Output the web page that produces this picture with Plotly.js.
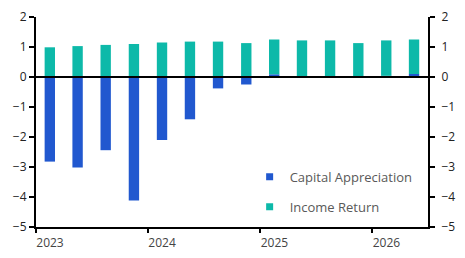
<!DOCTYPE html>
<html>
<head>
<meta charset="utf-8">
<script src="https://cdn.plot.ly/plotly-3.0.1.min.js"></script>
<style>
  html, body { margin: 0; padding: 0; background: #fff; }
  #chart { width: 465px; height: 258px; }
</style>
</head>
<body>
<div id="chart"></div>
<script>
// Quarter start dates (bars are centred within each quarter)
const quarters = [
  '2023-01-01', '2023-04-01', '2023-07-01', '2023-10-01',
  '2024-01-01', '2024-04-01', '2024-07-01', '2024-10-01',
  '2025-01-01', '2025-04-01', '2025-07-01', '2025-10-01',
  '2026-01-01', '2026-04-01'
];
// Quarterly total return components (%)
const capitalAppreciation = [-2.82, -3.02, -2.44, -4.12, -2.10, -1.41, -0.38, -0.25, 0.09, 0.00, 0.00, 0.00, 0.04, 0.10];
const incomeReturn        = [ 0.99,  1.03,  1.07,  1.10,  1.15,  1.18,  1.18,  1.13, 1.16, 1.22, 1.22, 1.13, 1.18, 1.15];

const yearTicks = ['2023-01-01', '2024-01-01', '2025-01-01', '2026-01-01'];
const yearLabels = ['2023', '2024', '2025', '2026'];
const yTicks = [2, 1, 0, -1, -2, -3, -4, -5];

const BLUE = '#2158cf';
const TEAL = '#0db9a9';
const FONT = '"Open Sans", "Noto Sans", sans-serif';
const BAR_W = 0.37 * 91.3 * 86400000;

const barCommon = {
  type: 'bar',
  x: quarters,
  xperiod: 'M3',
  xperiodalignment: 'middle',
  width: BAR_W,
  showlegend: false,
  hoverinfo: 'skip'
};

const traces = [
  Object.assign({}, barCommon, { name: 'Capital Appreciation', y: capitalAppreciation, marker: { color: BLUE } }),
  Object.assign({}, barCommon, { name: 'Income Return', y: incomeReturn, marker: { color: TEAL } }),
  // Legend keys with small square swatches
  { type: 'scatter', mode: 'markers', x: [null], y: [null], yaxis: 'y2', name: 'Capital Appreciation',
    legendgroup: 'a', marker: { symbol: 'square', size: 7, color: BLUE }, showlegend: true },
  { type: 'scatter', mode: 'markers', x: [null], y: [null], yaxis: 'y2', name: 'Income Return',
    legendgroup: 'b', marker: { symbol: 'square', size: 7, color: TEAL }, showlegend: true }
];

const yCommon = {
  range: [-5, 2],
  tickvals: yTicks,
  ticks: 'outside',
  ticklen: 5,
  tickwidth: 2,
  tickcolor: '#000',
  showline: true,
  linecolor: '#000',
  linewidth: 2,
  showgrid: false,
  zeroline: false,
  tickfont: { family: FONT, size: 12, color: '#222' },
  fixedrange: true
};

const layout = {
  width: 465,
  height: 258,
  margin: { l: 36, r: 37, t: 17, b: 31 },
  paper_bgcolor: '#fff',
  plot_bgcolor: '#fff',
  barmode: 'relative',
  font: { family: FONT, size: 12, color: '#595959' },
  xaxis: {
    type: 'date',
    range: ['2023-01-01', '2026-07-01'],
    tickvals: yearTicks,
    ticktext: yearLabels,
    ticks: 'outside',
    ticklen: 4,
    tickwidth: 2,
    tickcolor: '#000',
    ticklabelshift: 14,
    showline: true,
    linecolor: '#000',
    linewidth: 2,
    showgrid: false,
    zeroline: false,
    tickfont: { family: FONT, size: 12, color: '#444' }
  },
  yaxis: Object.assign({}, yCommon, { side: 'left' }),
  yaxis2: Object.assign({}, yCommon, { side: 'right', overlaying: 'y', ticklabelstandoff: 4 }),
  shapes: [
    // zero line across the plot
    { type: 'line', xref: 'paper', x0: 0, x1: 1, yref: 'y', y0: 0, y1: 0,
      line: { color: '#000', width: 2 } }
  ],
  legend: {
    x: 0.545, xanchor: 'left',
    y: 0.31, yanchor: 'top',
    traceorder: 'grouped',
    tracegroupgap: 10,
    bgcolor: 'rgba(0,0,0,0)',
    font: { family: FONT, size: 13, color: '#595959' },
    itemwidth: 30
  },
  showlegend: true
};

Plotly.newPlot('chart', traces, layout, { staticPlot: true, displayModeBar: false });
</script>
</body>
</html>
